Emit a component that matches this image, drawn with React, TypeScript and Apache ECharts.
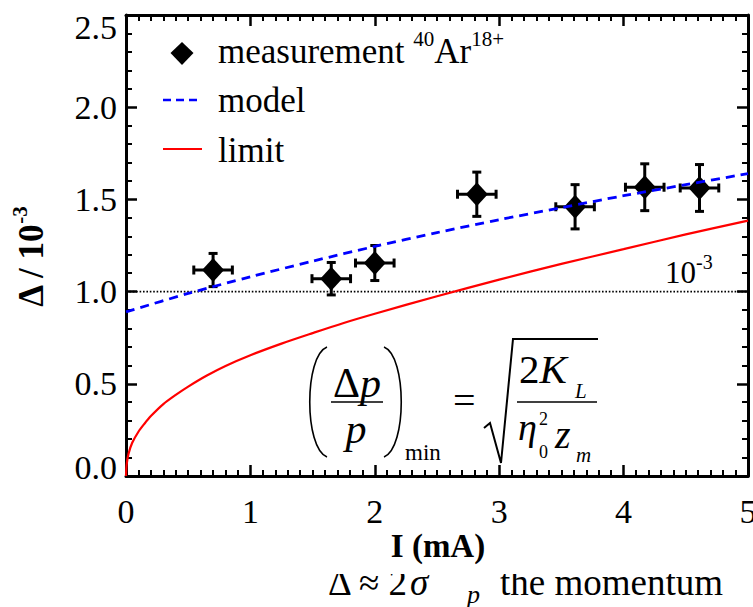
import React, { useEffect, useRef } from 'react';
import * as echarts from 'echarts';

// ---------- data ----------
const measI = [0.7, 1.65, 2.0, 2.82, 3.61, 4.17, 4.61];
const measDelta = [1.117, 1.07, 1.155, 1.528, 1.46, 1.566, 1.562];
const measIErr = [0.155, 0.155, 0.155, 0.155, 0.155, 0.155, 0.155];
const measDeltaErr = [0.09, 0.088, 0.095, 0.12, 0.12, 0.127, 0.127];

const modelI = [0, 0.5, 1, 1.5, 2, 2.5, 3, 3.5, 4, 4.5, 5];
const modelDelta = [0.89, 0.99, 1.08, 1.165, 1.245, 1.32, 1.39, 1.455, 1.52, 1.58, 1.64];

const limitI = [0, 0.005, 0.02, 0.05, 0.1, 0.15, 0.2, 0.3, 0.4, 0.5, 0.65, 0.8, 1, 1.25, 1.5, 1.75, 2, 2.5, 3, 3.5, 4, 4.5, 5];
const limitDelta = [0, 0.06, 0.12, 0.18, 0.24, 0.285, 0.325, 0.39, 0.44, 0.485, 0.545, 0.597, 0.655, 0.718, 0.775, 0.83, 0.88, 0.975, 1.065, 1.15, 1.23, 1.31, 1.385];

const refLevel = 1.0;
const xRange = [0, 5];
const yRange = [0, 2.5];

const legendNames = ['measurement', 'model', 'limit'];
const xName = 'I (mA)';

const serif = 'Liberation Serif';

function buildOption(): any {
  const axisLine = { show: true, onZero: false, lineStyle: { color: '#000', width: 3 } };
  const xBase = {
    type: 'value',
    min: xRange[0],
    max: xRange[1],
    interval: 1,
    axisLine,
    axisTick: { show: true, inside: true, length: 11, lineStyle: { color: '#000', width: 2.5 } },
    minorTick: { show: true, splitNumber: 10, length: 6, lineStyle: { color: '#000', width: 2 } },
    splitLine: { show: false },
    minorSplitLine: { show: false },
  };
  const yBase = {
    type: 'value',
    min: yRange[0],
    max: yRange[1],
    interval: 0.5,
    axisLine,
    axisTick: { show: true, inside: true, length: 11, lineStyle: { color: '#000', width: 2.5 } },
    minorTick: { show: true, splitNumber: 5, length: 6, lineStyle: { color: '#000', width: 2 } },
    splitLine: { show: false },
    minorSplitLine: { show: false },
  };
  const labelStyle = { fontSize: 34, fontFamily: serif, color: '#000' };
  const yRich = {
    n: { fontSize: 34, fontFamily: serif, color: '#000' },
    mx: { fontSize: 34, fontFamily: serif, color: '#000', padding: [24, 0, 0, 0] },
    mn: { fontSize: 34, fontFamily: serif, color: '#000', padding: [0, 0, 17, 0] },
  };

  const errData = measI.map((x, i) => [x, measDelta[i], measIErr[i], measDeltaErr[i]]);

  const txt = (x: number, y: number, text: string, extra: any = {}, z = 20) => ({
    type: 'text',
    x,
    y,
    z,
    silent: true,
    style: {
      text,
      fill: '#000',
      fontFamily: serif,
      fontSize: 35,
      align: 'left',
      verticalAlign: 'middle',
      ...extra,
    },
  });

  const graphics: any[] = [
    // legend
    {
      type: 'polygon',
      z: 20,
      shape: { points: [[182, 42], [193.5, 53], [182, 65], [170.5, 53]] },
      style: { fill: '#000' },
    },
    txt(218, 51, `{a|${legendNames[0]} }{s|40}{a|Ar}{s|18+}`, {
      rich: {
        a: { fontSize: 35, fontFamily: serif, lineHeight: 46, verticalAlign: 'middle' },
        s: { fontSize: 21, fontFamily: serif, lineHeight: 21, verticalAlign: 'top' },
      },
    }),
    {
      type: 'line',
      z: 20,
      shape: { x1: 163, y1: 100, x2: 202, y2: 100 },
      style: { stroke: '#0000ff', lineWidth: 2.5, lineDash: [8, 5] },
    },
    txt(218, 100, legendNames[1]),
    {
      type: 'line',
      z: 20,
      shape: { x1: 163, y1: 149, x2: 202, y2: 149 },
      style: { stroke: '#ff0000', lineWidth: 2 },
    },
    txt(218, 150, legendNames[2]),

    // 10^-3 annotation
    txt(665, 272, '10', { fontSize: 31 }),
    txt(696, 262, '-3', { fontSize: 20 }),

    // formula
    {
      type: 'bezierCurve',
      z: 20,
      shape: { x1: 327, y1: 347, cpx1: 304, cpy1: 356, cpx2: 304, cpy2: 448, x2: 327, y2: 457 },
      style: { stroke: '#000', lineWidth: 1.6, fill: null },
    },
    {
      type: 'bezierCurve',
      z: 20,
      shape: { x1: 384, y1: 347, cpx1: 407, cpy1: 356, cpx2: 407, cpy2: 448, x2: 384, y2: 457 },
      style: { stroke: '#000', lineWidth: 1.6, fill: null },
    },
    txt(357, 383, '{r|Δ}{i|p}', {
      align: 'center',
      rich: {
        r: { fontSize: 42, fontFamily: serif },
        i: { fontSize: 42, fontFamily: serif, fontStyle: 'italic' },
      },
    }),
    {
      type: 'line',
      z: 20,
      shape: { x1: 331, y1: 402, x2: 383, y2: 402 },
      style: { stroke: '#000', lineWidth: 1.6 },
    },
    txt(356, 429, 'p', { align: 'center', fontSize: 42, fontStyle: 'italic' }),
    txt(405, 452, 'min', { fontSize: 23 }),
    txt(453, 400, '=', { fontSize: 40 }),
    {
      type: 'polyline',
      z: 20,
      shape: { points: [[484, 428], [490, 423], [501, 463], [513, 339], [598, 339]] },
      style: { stroke: '#000', lineWidth: 2, fill: null },
    },
    txt(519, 369, '{r|2}{i|K}', {
      rich: {
        r: { fontSize: 41, fontFamily: serif },
        i: { fontSize: 41, fontFamily: serif, fontStyle: 'italic' },
      },
    }),
    txt(575, 391, 'L', { fontSize: 21, fontStyle: 'italic' }),
    {
      type: 'line',
      z: 20,
      shape: { x1: 517, y1: 402, x2: 597, y2: 402 },
      style: { stroke: '#000', lineWidth: 1.6 },
    },
    txt(518, 427, 'η', { fontSize: 38, fontStyle: 'italic' }),
    txt(539, 419, '2', { fontSize: 18 }),
    txt(539, 452, '0', { fontSize: 18 }),
    txt(555, 434, 'z', { fontSize: 40, fontStyle: 'italic' }),
    txt(576, 455, 'm', { fontSize: 21, fontStyle: 'italic' }),

    // axis names
    txt(438, 546, xName, { align: 'center', fontWeight: 'bold', fontSize: 33 }),
    {
      type: 'text',
      x: 31,
      y: 257,
      rotation: Math.PI / 2,
      z: 20,
      silent: true,
      style: {
        text: '{a|Δ / 10}{s|-3}',
        fill: '#000',
        align: 'center',
        verticalAlign: 'middle',
        rich: {
          a: { fontSize: 35, fontFamily: serif, fontWeight: 'bold', lineHeight: 44, verticalAlign: 'middle' },
          s: { fontSize: 21, fontFamily: serif, fontWeight: 'bold', lineHeight: 21, verticalAlign: 'top' },
        },
      },
    },

    // clipped text line of the page underneath
    txt(328, 582.5, 'Δ ≈ 2', { fontSize: 37 }, 5),
    txt(410, 582.5, 'σ', { fontSize: 37, fontStyle: 'italic' }, 5),
    txt(467, 594, 'p', { fontSize: 26, fontStyle: 'italic' }, 5),
    txt(500, 582.5, 'the momentum', { fontSize: 37 }, 5),
    {
      type: 'rect',
      z: 6,
      shape: { x: 300, y: 565, width: 453, height: 9 },
      style: { fill: '#fff' },
    },
  ];

  return {
    animation: false,
    backgroundColor: '#fff',
    textStyle: { fontFamily: serif },
    grid: { left: 126, right: 5, top: 15, bottom: 131, containLabel: false, outerBoundsMode: 'none' },
    xAxis: [
      { ...xBase, position: 'bottom', axisLabel: { ...labelStyle, margin: 18 } },
      { ...xBase, position: 'top', axisLabel: { show: false } },
    ],
    yAxis: [
      {
        ...yBase,
        position: 'left',
        axisLabel: {
          ...labelStyle,
          margin: 9,
          rich: yRich,
          formatter: (v: number) => {
            const s = v.toFixed(1);
            if (v === yRange[1]) return `{mx|${s}}`;
            if (v === yRange[0]) return `{mn|${s}}`;
            return `{n|${s}}`;
          },
        },
      },
      { ...yBase, position: 'right', axisLabel: { show: false } },
    ],
    series: [
      {
        type: 'line',
        name: 'ref',
        data: [[xRange[0], refLevel], [xRange[1], refLevel]],
        showSymbol: false,
        symbol: 'none',
        lineStyle: { color: '#000', width: 1.6, type: [1.6, 1.8] },
        z: 1,
        silent: true,
      },
      {
        type: 'custom',
        name: 'err',
        data: errData,
        encode: { x: 0, y: 1 },
        z: 2,
        silent: true,
        renderItem: (params: any, api: any) => {
          const x = api.value(0);
          const y = api.value(1);
          const ex = api.value(2);
          const ey = api.value(3);
          const l = api.coord([x - ex, y]);
          const r = api.coord([x + ex, y]);
          const t = api.coord([x, y + ey]);
          const b = api.coord([x, y - ey]);
          const cap = 4.5;
          const style = { stroke: '#000', lineWidth: 3 };
          return {
            type: 'group',
            children: [
              { type: 'line', shape: { x1: l[0], y1: l[1], x2: r[0], y2: r[1] }, style },
              { type: 'line', shape: { x1: t[0], y1: t[1], x2: b[0], y2: b[1] }, style },
              { type: 'line', shape: { x1: l[0], y1: l[1] - cap, x2: l[0], y2: l[1] + cap }, style },
              { type: 'line', shape: { x1: r[0], y1: r[1] - cap, x2: r[0], y2: r[1] + cap }, style },
              { type: 'line', shape: { x1: t[0] - cap, y1: t[1], x2: t[0] + cap, y2: t[1] }, style },
              { type: 'line', shape: { x1: b[0] - cap, y1: b[1], x2: b[0] + cap, y2: b[1] }, style },
            ],
          };
        },
      },
      {
        type: 'scatter',
        name: legendNames[0],
        data: measI.map((x, i) => [x, measDelta[i]]),
        symbol: 'diamond',
        symbolSize: [22, 24],
        itemStyle: { color: '#000', opacity: 1 },
        z: 3,
        silent: true,
      },
      {
        type: 'line',
        name: legendNames[2],
        data: limitI.map((x, i) => [x, limitDelta[i]]),
        smooth: 0.3,
        showSymbol: false,
        symbol: 'none',
        lineStyle: { color: '#ff0000', width: 2.2 },
        z: 4,
        silent: true,
      },
      {
        type: 'line',
        name: legendNames[1],
        data: modelI.map((x, i) => [x, modelDelta[i]]),
        smooth: 0.3,
        showSymbol: false,
        symbol: 'none',
        lineStyle: { color: '#0000ff', width: 2.8, type: [9, 6] },
        z: 5,
        silent: true,
      },
    ],
    graphic: graphics,
  };
}

export default function App() {
  const ref = useRef<HTMLDivElement>(null);
  useEffect(() => {
    if (!ref.current) return;
    const chart = echarts.init(ref.current, null, { renderer: 'svg' });
    chart.setOption(buildOption());
    return () => chart.dispose();
  }, []);
  return (
    <div
      ref={ref}
      style={{ position: 'absolute', left: 0, top: 0, width: 753, height: 607, background: '#fff' }}
    />
  );
}
